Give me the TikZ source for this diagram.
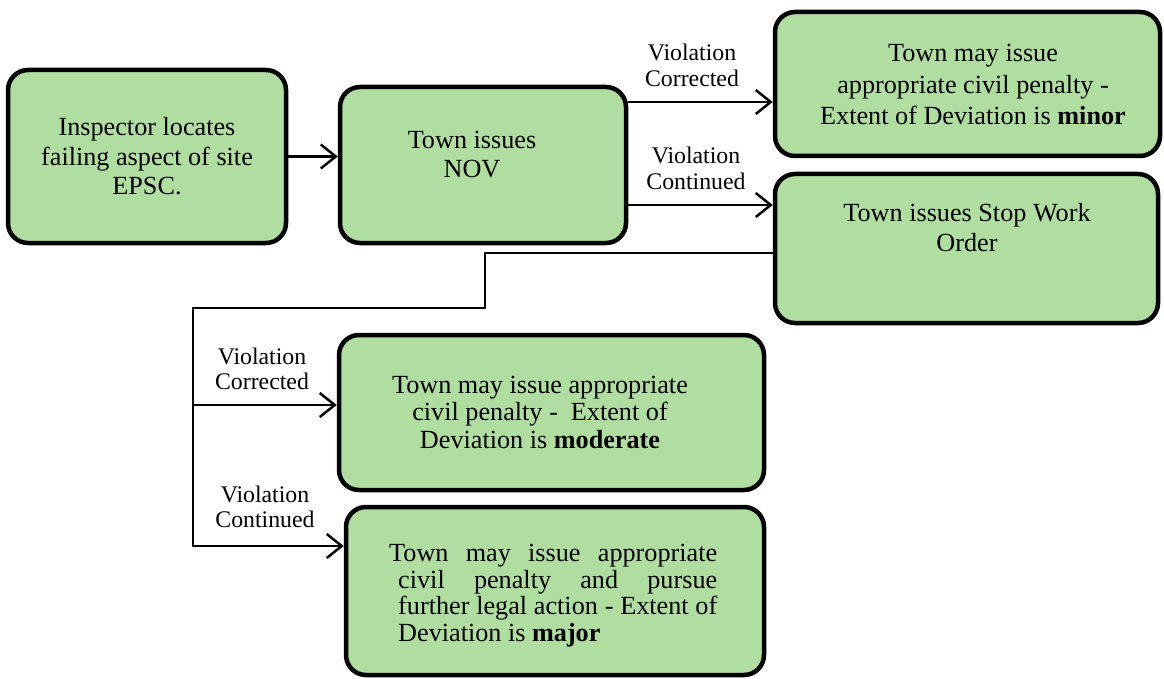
\documentclass[tikz,border=0pt]{standalone}
\usepackage{fontspec}
\setmainfont{Liberation Serif}
\usetikzlibrary{arrows.meta}
\definecolor{boxgreen}{RGB}{176,221,160}
\tikzset{
  box/.style={draw=black, line width=4.5pt, fill=boxgreen, rounded corners=20pt, inner sep=0pt},
  txt/.style={align=center, font=\fontsize{26.2}{29.5}\selectfont, inner sep=0pt, anchor=base},
  widetxt/.style={txt, font=\fontsize{26.2}{31.5}\selectfont},
  tighttxt/.style={txt, font=\fontsize{26.2}{27.5}\selectfont},
  lbl/.style={align=center, font=\fontsize{23.8}{25.5}\selectfont, inner sep=0pt, anchor=base},
  jline/.style={font=\fontsize{26.2}{27.5}\selectfont, inner sep=0pt, anchor=base west},
  link/.style={line width=2.5pt, line join=miter},
  arr/.style={link, -{Straight Barb[length=15pt,width=24pt,line width=2.5pt]}}
}
\begin{document}
\begin{tikzpicture}[x=1pt,y=-1pt]
\useasboundingbox (0,0) rectangle (1164,679);

% boxes
\node[box, minimum width=278pt, minimum height=173pt] (A) at (147,156.5) {};
\node[box, minimum width=286pt, minimum height=156pt] (B) at (483,165) {};
\node[box, minimum width=385pt, minimum height=144pt] (C) at (967.5,84) {};
\node[box, minimum width=383pt, minimum height=149pt] (D) at (966.5,248.5) {};
\node[box, minimum width=425pt, minimum height=155pt] (E) at (551.5,412.5) {};
\node[box, minimum width=418pt, minimum height=168pt] (F) at (555,591) {};

% box texts (anchored on the baseline of their last line)
\node[txt] (tA) at (147,195) {Inspector locates\\failing aspect of site\\EPSC.};
\node[txt] (tB) at (472,178) {Town issues\\NOV};
\node[widetxt] (tC) at (973,125) {Town may issue\\appropriate civil penalty -\\Extent of Deviation is \textbf{minor}};
\node[txt] (tD) at (967,251) {Town issues Stop Work\\Order};
\node[tighttxt] (tE) at (540,448) {Town may issue appropriate\\civil penalty -\ \ Extent of\\Deviation is \textbf{moderate}};
\node[jline] (tF1) at (389,561) {\makebox[328pt][s]{Town may issue appropriate}};
\node[jline] (tF2) at (398,588) {\makebox[319pt][s]{civil penalty and pursue}};
\node[jline] (tF3) at (398,614) {\makebox[319pt][s]{further legal action - Extent of}};
\node[jline] (tF4) at (398,641) {Deviation is \textbf{major}};

% connector labels
\node[lbl] (l1) at (692,86.5) {Violation\\Corrected};
\node[lbl] (l2) at (696,189.5) {Violation\\Continued};
\node[lbl] (l3) at (262,389.5) {Violation\\Corrected};
\node[lbl] (l4) at (265,527.5) {Violation\\Continued};

% connectors
\coordinate (j1) at (485,253);
\coordinate (j2) at (485,308);
\coordinate (j3) at (193,308);
\coordinate (j4) at (193,405);
\coordinate (j5) at (193,546);
\coordinate (r1) at (0,102);
\coordinate (r2) at (0,205);

\draw[arr] (A.east) -- (B.west |- A.east);
\draw[arr] (B.east |- r1) -- (C.west |- r1);
\draw[arr] (B.east |- r2) -- (D.west |- r2);
\draw[arr] (D.west |- j1) -- (j1) -- (j2) -- (j3) -- (j5) -- (F.west |- j5);
\draw[arr] (j4) -- (E.west |- j4);
\end{tikzpicture}
\end{document}
